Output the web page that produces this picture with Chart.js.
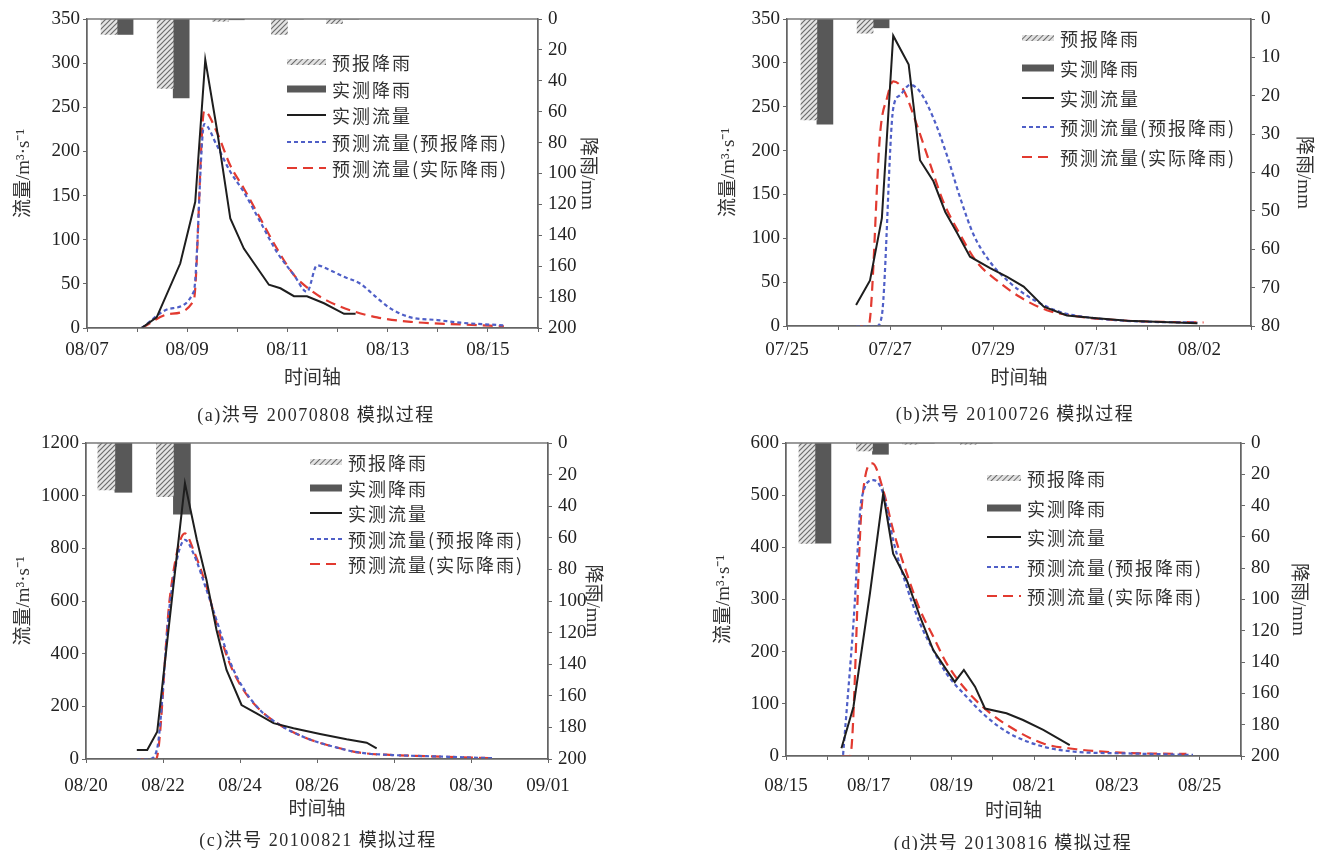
<!DOCTYPE html>
<html>
<head>
<meta charset="utf-8">
<script src="https://cdn.jsdelivr.net/npm/chart.js@4.4.1/dist/chart.umd.min.js"></script>
<style>
body{margin:0;background:#fff;width:1323px;height:850px;position:relative;overflow:hidden;font-family:'Liberation Serif','Noto Sans CJK SC',serif;color:#2a2a2a}
canvas{position:absolute}
.cap{position:absolute;font-size:18px;letter-spacing:1.5px;transform:translate(-50%,-50%);white-space:nowrap;color:#2a2a2a}
.lg{position:absolute;font-family:'Noto Sans CJK SC',sans-serif;font-size:18px;letter-spacing:2px;color:#333}
.lg div{display:flex;align-items:center;white-space:nowrap}
.lg svg{margin-right:6px;flex:none}
</style>
</head>
<body>
<script>
// (a) 洪号 20070808
const aTicks = ['08/07','08/09','08/11','08/13','08/15'];
const aBarT = [0.6, 1.72, 2.82, 4.0, 5.1];
const aRainF = [10, 45, 1.5, 10, 3];
const aRainO = [10, 51, 0.5, 0, 0];
const aObsT = [1.09, 1.39, 1.86, 2.16, 2.36, 2.59, 2.86, 3.13, 3.63, 3.86, 4.13, 4.39, 4.73, 5.13, 5.36];
const aObsQ = [0, 12, 73, 143, 304, 226, 124, 90, 49, 45, 36, 36, 28, 16, 16];
const aPfT = [1.09, 1.66, 2.13, 2.34, 2.59, 2.86, 3.13, 3.46, 3.79, 4.13, 4.39, 4.59, 4.79, 5.13, 5.46, 5.73, 6.06, 6.46, 6.99, 7.46, 8.32];
const aPfQ = [0, 22, 41, 231, 207, 177, 154, 120, 86, 60, 41, 71, 67, 58, 50, 37, 22, 12, 9, 6, 3];
const aPaT = [1.09, 1.66, 2.13, 2.34, 2.59, 2.86, 3.13, 3.46, 3.79, 4.13, 4.46, 4.79, 5.26, 5.79, 6.46, 7.46, 8.32];
const aPaQ = [0, 16, 31, 246, 222, 184, 158, 124, 90, 60, 43, 31, 20, 12, 7, 4, 2];

// (b) 洪号 20100726
const bTicks = ['07/25','07/27','07/29','07/31','08/02'];
const bBarT = [0.58, 1.67];
const bRainF = [26.3, 3.7];
const bRainO = [27.4, 2.3];
const bObsT = [1.34, 1.61, 1.84, 2.06, 2.36, 2.58, 2.84, 3.07, 3.30, 3.55, 3.94, 4.27, 4.59, 4.98, 5.43, 5.95, 6.60, 7.96];
const bObsQ = [24, 52, 123, 331, 298, 189, 165, 130, 106, 79, 66, 56, 45, 22, 12, 9, 6, 3];
const bPfT = [1.34, 1.74, 1.84, 2.06, 2.19, 2.39, 2.58, 2.84, 3.10, 3.36, 3.62, 3.94, 4.33, 4.78, 5.30, 5.95, 6.92, 7.96];
const bPfQ = [0, 0, 12, 248, 263, 275, 267, 237, 195, 146, 104, 73, 49, 30, 16, 9, 5, 4];
const bPaT = [1.34, 1.58, 1.81, 1.94, 2.06, 2.26, 2.52, 2.78, 3.03, 3.36, 3.68, 4.07, 4.52, 5.04, 5.63, 6.60, 8.08];
const bPaQ = [0, 0, 222, 260, 279, 269, 229, 184, 142, 104, 73, 52, 33, 18, 11, 6, 4];

// (c) 洪号 20100821
const cTicks = ['08/20','08/22','08/24','08/26','08/28','08/30','09/01'];
const cBarT = [0.75, 2.27];
const cRainF = [29.7, 34];
const cRainO = [31.2, 45];
const cObsT = [1.32, 1.59, 1.85, 2.18, 2.57, 2.88, 3.13, 3.39, 3.65, 4.04, 4.43, 4.87, 5.39, 6.08, 6.77, 7.29, 7.55];
const cObsQ = [34, 34, 104, 540, 1047, 832, 680, 490, 338, 205, 173, 136, 117, 95, 75, 62, 40];
const cPfT = [1.32, 1.65, 1.84, 2.18, 2.57, 2.79, 3.13, 3.44, 3.74, 4.09, 4.52, 5.04, 5.73, 6.42, 7.12, 7.98, 9.28, 10.58];
const cPfQ = [0, 0, 34, 591, 832, 781, 642, 505, 370, 268, 186, 129, 79, 47, 24, 15, 9, 3];
const cPaT = [1.32, 1.82, 2.18, 2.57, 2.79, 3.13, 3.44, 3.74, 4.09, 4.52, 5.04, 5.73, 6.42, 7.12, 7.98, 9.28, 10.58];
const cPaQ = [0, 0, 616, 857, 794, 654, 490, 360, 262, 186, 129, 79, 47, 24, 15, 9, 3];

// (d) 洪号 20130816
const dTicks = ['08/15','08/17','08/19','08/21','08/23','08/25'];
const dBarT = [0.7, 2.09, 3.2, 4.6];
const dRainF = [64.2, 5.1, 0.8, 0.8];
const dRainO = [64, 7.2, 0, 0];
const dObsT = [1.34, 1.63, 2.03, 2.35, 2.59, 2.92, 3.24, 3.56, 3.88, 4.08, 4.30, 4.57, 4.81, 5.33, 5.73, 6.22, 6.86];
const dObsQ = [15, 94, 312, 503, 388, 337, 267, 203, 165, 142, 165, 133, 91, 82, 69, 50, 21];
const dPfT = [1.38, 1.63, 1.83, 2.11, 2.35, 2.59, 2.92, 3.24, 3.56, 3.88, 4.36, 4.85, 5.41, 6.22, 7.02, 8.23, 9.84];
const dPfQ = [2, 254, 494, 529, 503, 414, 324, 254, 203, 158, 114, 75, 43, 18, 8, 5, 2];
const dPaT = [1.34, 1.55, 1.83, 2.09, 2.35, 2.59, 2.92, 3.24, 3.56, 3.88, 4.36, 4.85, 5.41, 6.22, 7.02, 8.23, 9.68];
const dPaQ = [0, 0, 478, 561, 510, 433, 350, 280, 229, 178, 126, 88, 56, 24, 13, 6, 4];

const names = ['预报降雨','实测降雨','实测流量','预测流量(预报降雨)','预测流量(实际降雨)'];
const BLUE = '#4f5fc7', RED = '#e23a30';

Chart.defaults.font.family = "'Liberation Serif','Noto Sans CJK SC',serif";
Chart.defaults.font.size = 19;
Chart.defaults.color = '#222';

// hatched fill for forecast rain
function hatch(){
  const c = document.createElement('canvas'); c.width = 5; c.height = 5;
  const g = c.getContext('2d');
  g.fillStyle = '#e4e4e4'; g.fillRect(0,0,5,5);
  g.strokeStyle = '#6c6c6c'; g.lineWidth = 1.2;
  g.beginPath();
  g.moveTo(0,5); g.lineTo(5,0);
  g.moveTo(-1,1); g.lineTo(1,-1);
  g.moveTo(4,6); g.lineTo(6,4);
  g.stroke();
  return g.createPattern(c,'repeat');
}
const hatchFill = hatch();

const frame = {
  id:'frame',
  afterDatasetsDraw(chart){
    const a = chart.chartArea, c = chart.ctx;
    c.save(); c.strokeStyle = '#666'; c.lineWidth = 1.3;
    c.strokeRect(a.left, a.top, a.right - a.left, a.bottom - a.top);
    c.restore();
  }
};

function pts(t, q){ return t.map((v,i) => ({x:v, y:q[i]})); }

function panel(p){
  const cv = document.createElement('canvas');
  cv.width = p.box[2]; cv.height = p.box[3];
  cv.style.left = p.box[0] + 'px'; cv.style.top = p.box[1] + 'px';
  document.body.appendChild(cv);
  const axisTitle = {size:19, family:"'Liberation Serif','Noto Sans CJK SC',serif"};
  new Chart(cv, {
    type:'line',
    data:{datasets:[
      {type:'bar', label:names[0], data:pts(p.barT,p.rainF), yAxisID:'y2', backgroundColor:hatchFill, barThickness:p.barW, order:3},
      {type:'bar', label:names[1], data:pts(p.barT,p.rainO), yAxisID:'y2', backgroundColor:'#585858', barThickness:p.barW, order:3},
      {label:names[2], data:pts(p.obsT,p.obsQ), borderColor:'#1e1e1e', borderWidth:2, pointRadius:0, tension:0, order:0},
      {label:names[3], data:pts(p.pfT,p.pfQ), borderColor:BLUE, borderDash:[4,3], borderWidth:2.2, pointRadius:0, cubicInterpolationMode:'monotone', order:1},
      {label:names[4], data:pts(p.paT,p.paQ), borderColor:RED, borderDash:[10,6], borderWidth:2.2, pointRadius:0, cubicInterpolationMode:'monotone', order:1}
    ]},
    options:{
      responsive:false, animation:false,
      layout:{padding:{left:0,right:0,top:p.top,bottom:0}},
      plugins:{legend:{display:false}, tooltip:{enabled:false}},
      scales:{
        x:{
          type:'linear', min:0, max:p.xMax, offset:false,
          afterFit(s){ s.height = p.hx; },
          border:{display:true, color:'#666', width:1.3},
          grid:{display:true, offset:false, drawOnChartArea:false, tickLength:4, color:'#666'},
          ticks:{stepSize:p.xStep, autoSkip:false, maxRotation:0, padding:p.tpad, color:'#222',
            callback:v => { const k = Math.round(v); return k % 2 === 0 ? p.ticks[k/2] : ''; }},
          title:{display:true, text:'时间轴', color:'#333', font:axisTitle, padding:{top:0, bottom:p.xtp}}
        },
        y:{
          position:'left', min:0, max:p.yMax,
          afterFit(s){ s.width = p.wl; },
          border:{display:true, color:'#666', width:1.3},
          grid:{display:true, drawOnChartArea:false, tickLength:4, color:'#666'},
          ticks:{stepSize:p.yStep, padding:3, color:'#222', callback:v => String(v)},
          title:{display:true, text:'流量/m³·s⁻¹', color:'#333', font:axisTitle, padding:{top:p.ltp, bottom:0}}
        },
        y2:{
          position:'right', reverse:true, min:0, max:p.y2Max,
          afterFit(s){ s.width = p.wr; },
          border:{display:true, color:'#666', width:1.3},
          grid:{display:true, drawOnChartArea:false, tickLength:4, color:'#666'},
          ticks:{stepSize:p.y2Step, padding:6, color:'#222', callback:v => String(v)},
          title:{display:true, text:'降雨/mm', color:'#333', font:axisTitle, padding:{top:p.rtp, bottom:0}}
        }
      }
    },
    plugins:[frame]
  });

  // legend drawn as html text inside the plot
  const lg = document.createElement('div');
  lg.className = 'lg';
  const sw = p.lg[1] - p.lg[0] - 6;
  lg.style.left = p.lg[0] + 'px';
  lg.style.top = (p.lg[2] - p.lg[3]/2) + 'px';
  const id = 'hp' + p.key;
  const samples = [
    `<svg width="${sw}" height="10"><defs><pattern id="${id}" width="4" height="4" patternUnits="userSpaceOnUse" patternTransform="rotate(45)"><rect width="4" height="4" fill="#e2e2e2"/><line x1="0" y1="0" x2="0" y2="4" stroke="#6c6c6c" stroke-width="2"/></pattern></defs><rect y="2" width="${sw}" height="6" fill="url(#${id})"/></svg>`,
    `<svg width="${sw}" height="10"><rect y="1.5" width="${sw}" height="7" fill="#585858"/></svg>`,
    `<svg width="${sw}" height="10"><line x1="0" y1="5" x2="${sw}" y2="5" stroke="#1e1e1e" stroke-width="2"/></svg>`,
    `<svg width="${sw}" height="10"><line x1="0" y1="5" x2="${sw}" y2="5" stroke="${BLUE}" stroke-width="2.2" stroke-dasharray="4 3"/></svg>`,
    `<svg width="${sw}" height="10"><line x1="0" y1="5" x2="${sw}" y2="5" stroke="${RED}" stroke-width="2.2" stroke-dasharray="10 6"/></svg>`
  ];
  lg.innerHTML = names.map((n,i) => `<div style="height:${p.lg[3]}px">${samples[i]}<span>${n}</span></div>`).join('');
  document.body.appendChild(lg);

  const cap = document.createElement('div');
  cap.className = 'cap';
  cap.style.left = p.cap[0] + 'px'; cap.style.top = p.cap[1] + 'px';
  cap.textContent = p.caption;
  document.body.appendChild(cap);
}

panel({key:'a', box:[0,0,660,425], top:19, wl:87, ltp:13, wr:122, rtp:62, hx:97, xtp:35, tpad:7,
  xMax:9, xStep:1, yMax:350, yStep:50, y2Max:200, y2Step:20, barW:16,
  ticks:aTicks, barT:aBarT, rainF:aRainF, rainO:aRainO, obsT:aObsT, obsQ:aObsQ, pfT:aPfT, pfQ:aPfQ, paT:aPaT, paQ:aPaQ,
  lg:[287, 332, 62, 26.5], cap:[316, 413], caption:'(a)洪号 20070808 模拟过程'});

panel({key:'b', box:[660,0,663,425], top:19, wl:127, ltp:58, wr:72, rtp:9, hx:99, xtp:35, tpad:9,
  xMax:9, xStep:1, yMax:350, yStep:50, y2Max:80, y2Step:10, barW:16,
  ticks:bTicks, barT:bBarT, rainF:bRainF, rainO:bRainO, obsT:bObsT, obsQ:bObsQ, pfT:bPfT, pfQ:bPfQ, paT:bPaT, paQ:bPaQ,
  lg:[1022, 1060, 38, 29.8], cap:[1015, 412], caption:'(b)洪号 20100726 模拟过程'});

panel({key:'c', box:[0,425,660,425], top:18, wl:86, ltp:13, wr:112, rtp:57, hx:91, xtp:29, tpad:12,
  xMax:12, xStep:2, yMax:1200, yStep:200, y2Max:200, y2Step:20, barW:17,
  ticks:cTicks, barT:cBarT, rainF:cRainF, rainO:cRainO, obsT:cObsT, obsQ:cObsQ, pfT:cPfT, pfQ:cPfQ, paT:cPaT, paQ:cPaQ,
  lg:[310, 348, 462, 25.5], cap:[318, 838], caption:'(c)洪号 20100821 模拟过程'});

panel({key:'d', box:[660,425,663,425], top:18, wl:126, ltp:53, wr:82, rtp:14, hx:94, xtp:27, tpad:15,
  xMax:11, xStep:1, yMax:600, yStep:100, y2Max:200, y2Step:20, barW:16,
  ticks:dTicks, barT:dBarT, rainF:dRainF, rainO:dRainO, obsT:dObsT, obsQ:dObsQ, pfT:dPfT, pfQ:dPfQ, paT:dPaT, paQ:dPaQ,
  lg:[987, 1027, 478, 29.5], cap:[1013, 841], caption:'(d)洪号 20130816 模拟过程'});
</script>
</body>
</html>
